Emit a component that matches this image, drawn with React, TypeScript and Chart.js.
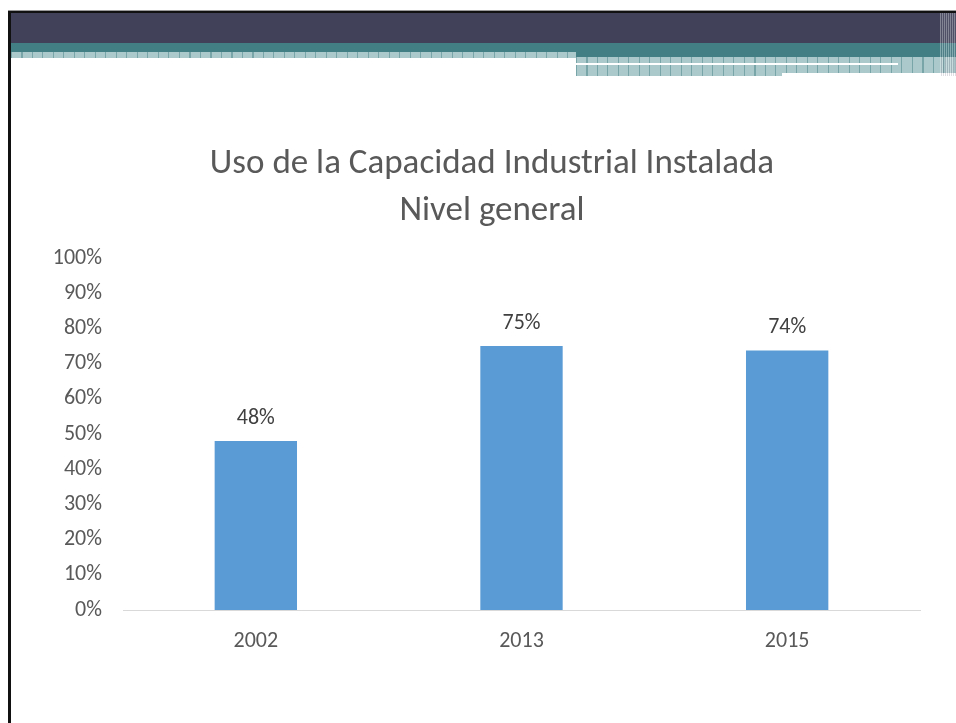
import React, { useEffect, useRef } from "react";
import { Chart, registerables } from "chart.js";

Chart.register(...registerables);

const categories = ["2002", "2013", "2015"];
const values = [48, 75, 73.7];
const titleLines = ["Uso de la Capacidad Industrial Instalada", "Nivel general"];
const yMin = 0;
const yMax = 100;
const yStep = 10;

const FONT = "Carlito, Lato, 'Open Sans', sans-serif";

const valueLabels = {
  id: "valueLabels",
  afterDatasetsDraw(chart: any) {
    const ctx = chart.ctx;
    const meta = chart.getDatasetMeta(0);
    ctx.save();
    ctx.font = `22px ${FONT}`;
    ctx.fillStyle = "#404040";
    ctx.textAlign = "center";
    ctx.textBaseline = "middle";
    meta.data.forEach((bar: any, i: number) => {
      ctx.fillText(`${Math.round(values[i])}%`, bar.x, bar.y - 23);
    });
    ctx.restore();
  },
};

const chartTitle = {
  id: "chartTitle",
  afterDraw(chart: any) {
    const ctx = chart.ctx;
    ctx.save();
    ctx.font = `35px ${FONT}`;
    ctx.fillStyle = "#595959";
    ctx.textAlign = "center";
    ctx.textBaseline = "middle";
    titleLines.forEach((line, i) => {
      ctx.fillText(line, chart.width / 2, 164 + i * 47);
    });
    ctx.restore();
  },
};

const pattern =
  "repeating-linear-gradient(90deg, #78a5a8 0px, #78a5a8 1px, #abc8ca 1px, #abc8ca 10.5px)";

function Decorations() {
  const abs = (s: React.CSSProperties): React.CSSProperties => ({ position: "absolute", ...s });
  return (
    <>
      <div style={abs({ left: 8, top: 10, width: 948, height: 1, background: "#9a9a9a" })} />
      <div style={abs({ left: 8, top: 11, width: 948, height: 2, background: "#111" })} />
      <div style={abs({ left: 8, top: 11, width: 3, height: 712, background: "#111" })} />
      <div style={abs({ left: 11, top: 13, width: 945, height: 30, background: "#41425a" })} />
      <div style={abs({ left: 11, top: 43, width: 565, height: 9, background: "#427f85" })} />
      <div style={abs({ left: 576, top: 43, width: 380, height: 14, background: "#427f85" })} />
      <div style={abs({ left: 11, top: 52, width: 565, height: 6, background: pattern })} />
      <div style={abs({ left: 576, top: 57, width: 380, height: 16, background: pattern })} />
      <div style={abs({ left: 576, top: 73, width: 206, height: 3, background: pattern })} />
      <div style={abs({ left: 576, top: 63, width: 322, height: 2, background: "#ffffff" })} />
      <div
        style={abs({
          left: 940,
          top: 13,
          width: 16,
          height: 63,
          background:
            "repeating-linear-gradient(90deg, rgba(255,255,255,0.35) 0px, rgba(255,255,255,0.35) 1px, rgba(120,120,140,0.25) 1px, rgba(120,120,140,0.25) 2px)",
        })}
      />
    </>
  );
}

export default function App() {
  const canvasRef = useRef<HTMLCanvasElement | null>(null);

  useEffect(() => {
    if (!canvasRef.current) return;
    const chart = new Chart(canvasRef.current, {
      type: "bar",
      data: {
        labels: categories,
        datasets: [
          {
            data: values,
            backgroundColor: "#5b9bd5",
            borderWidth: 0,
            categoryPercentage: 1,
            barPercentage: 0.31,
          },
        ],
      },
      options: {
        responsive: false,
        animation: false,
        devicePixelRatio: 1,
        layout: { padding: { left: 20, right: 36, top: 258, bottom: 0 } },
        plugins: {
          legend: { display: false },
          tooltip: { enabled: false },
          title: { display: false },
        },
        scales: {
          x: {
            grid: { display: false, drawTicks: false },
            border: { display: true, color: "#d9d9d9", width: 1 },
            ticks: {
              color: "#595959",
              font: { family: FONT, size: 22 },
              padding: 18,
            },
            afterFit(scale: any) {
              scale.height = 113;
            },
          },
          y: {
            min: yMin,
            max: yMax,
            grid: { display: false, drawTicks: false },
            border: { display: false },
            ticks: {
              stepSize: yStep,
              color: "#595959",
              font: { family: FONT, size: 22 },
              padding: 21,
              callback: (v: any) => `${v}%`,
            },
            afterFit(scale: any) {
              scale.width = 75;
            },
          },
        },
      },
      plugins: [valueLabels, chartTitle],
    });
    return () => chart.destroy();
  }, []);

  return (
    <div
      style={{
        position: "fixed",
        left: 0,
        top: 0,
        width: 956,
        height: 723,
        background: "#ffffff",
        overflow: "hidden",
      }}
    >
      <Decorations />
      <canvas
        ref={canvasRef}
        width={928}
        height={723}
        style={{ position: "absolute", left: 28, top: 0, width: 928, height: 723 }}
      />
    </div>
  );
}
